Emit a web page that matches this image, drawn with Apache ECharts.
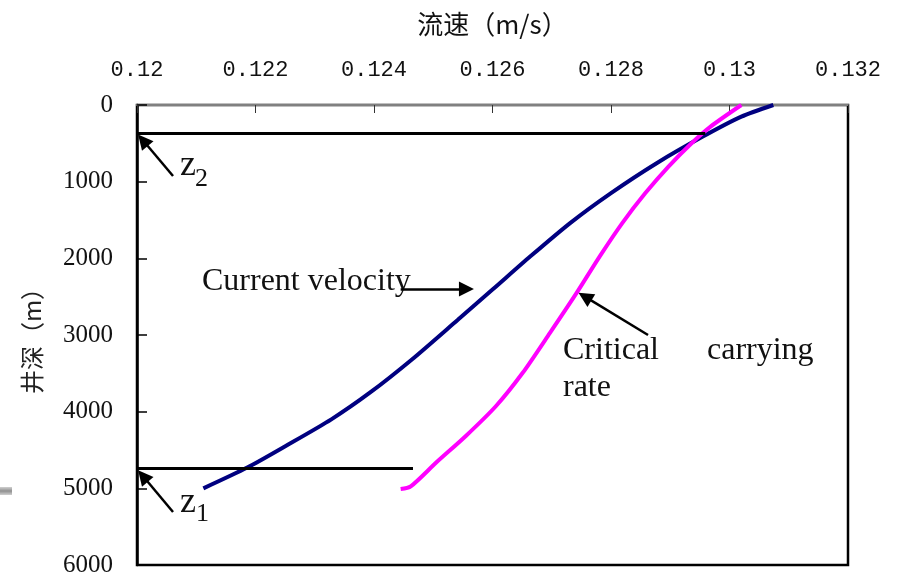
<!DOCTYPE html>
<html>
<head>
<meta charset="utf-8">
<script src="https://cdn.jsdelivr.net/npm/echarts@6/dist/echarts.min.js"></script>
<style>html,body{margin:0;padding:0;background:#fff;}#c{width:899px;height:579px;}</style>
</head>
<body>
<div id="c"></div>
<script>
// ---- data ----
const xTicks = [0.12, 0.122, 0.124, 0.126, 0.128, 0.13, 0.132];
const yTicks = [0, 1000, 2000, 3000, 4000, 5000, 6000];
// Current velocity (m/s) vs well depth (m)
const depthCurrent = [5000, 4729, 4447, 4100, 3753, 3319, 2798, 2408, 1974, 1540, 1149, 759, 412, 152, 0];
const velCurrent   = [0.12112, 0.12186, 0.12251, 0.12328, 0.12393, 0.12464, 0.12542, 0.12600, 0.12664, 0.12731, 0.12800, 0.12877, 0.12955, 0.13020, 0.13074];
// Critical carrying rate (m/s) vs well depth (m)
const depthCritical = [5010, 4975, 4664, 4317, 3926, 3493, 2972, 2451, 1974, 1540, 1149, 803, 499, 282, 0];
const velCritical   = [0.12445, 0.12462, 0.12505, 0.12555, 0.12606, 0.12651, 0.12697, 0.12742, 0.12781, 0.12819, 0.12858, 0.12897, 0.12936, 0.12968, 0.13020];
// z levels (depth) and how far the horizontal marker lines reach
const zDepths   = [365, 4735];
const zLineEnds = [0.12959, 0.124658];

const chart = echarts.init(document.getElementById('c'));
const black = '#000';
const arrowStyle = {color: black, width: 2.5, type: 'solid'};

function arrow(x1, y1, x2, y2) {
  return [{coord: [x1, y1], symbol: 'none', lineStyle: arrowStyle},
          {coord: [x2, y2], symbol: 'triangle'}];
}

const option = {
  animation: false,
  backgroundColor: '#fff',
  grid: {left: 137, right: 51, top: 105, bottom: 14, show: true, borderColor: black, borderWidth: 2.5, backgroundColor: '#fff'},
  xAxis: {
    type: 'value', position: 'top', min: 0.12, max: 0.132, interval: 0.002,
    name: '流速（m/s）', nameLocation: 'middle', nameGap: 68,
    nameTextStyle: {fontFamily: '"Noto Sans CJK SC"', fontSize: 26, color: '#111'},
    axisLine: {show: true, lineStyle: {color: '#808080', width: 2}},
    axisTick: {show: true, inside: true, length: 8, lineStyle: {color: '#333', width: 1}},
    axisLabel: {margin: 24, fontFamily: '"Liberation Mono"', fontSize: 22, color: '#111',
      formatter: v => String(+v.toFixed(3))},
    splitLine: {show: false}
  },
  yAxis: {
    type: 'value', inverse: true, min: 0, max: 6000, interval: 1000,
    name: '井深（m）', nameLocation: 'middle', nameGap: 93, nameRotate: 90,
    nameTextStyle: {fontFamily: '"Noto Sans CJK SC"', fontSize: 24, color: '#222'},
    axisLine: {show: true, lineStyle: {color: black, width: 2.5}},
    axisTick: {show: true, inside: true, length: 10, lineStyle: {color: black, width: 1.5}},
    axisLabel: {margin: 24, fontFamily: '"Liberation Serif"', fontSize: 25, color: '#111',
      formatter: v => String(v)},
    splitLine: {show: false}
  },
  series: [
    {
      name: 'Current velocity', type: 'line', smooth: 0.25, symbol: 'none',
      lineStyle: {color: '#000080', width: 4},
      data: velCurrent.map((v, i) => [v, depthCurrent[i]]),
      z: 3
    },
    {
      name: 'Critical carrying rate', type: 'line', smooth: 0.25, symbol: 'none',
      lineStyle: {color: '#FF00FF', width: 4},
      data: velCritical.map((v, i) => [v, depthCritical[i]]),
      z: 3
    },
    {
      name: 'annotations', type: 'line', data: [], symbol: 'none', z: 4,
      markLine: {
        silent: true, animation: false, symbolSize: 15,
        label: {show: false},
        data: [
          [{coord: [0.12, zDepths[0]], symbol: 'none', lineStyle: {color: black, width: 3, type: 'solid'}}, {coord: [zLineEnds[0], zDepths[0]], symbol: 'none'}],
          [{coord: [0.12, zDepths[1]], symbol: 'none', lineStyle: {color: black, width: 3, type: 'solid'}}, {coord: [zLineEnds[1], zDepths[1]], symbol: 'none'}],
          arrow(0.120608, 926, 0.12010, 460),
          arrow(0.120608, 5309, 0.12010, 4840),
          arrow(0.124450, 2400, 0.125560, 2400),
          arrow(0.128625, 3000, 0.127560, 2500)
        ]
      }
    }
  ],
  graphic: [
    {type: 'text', style: {text: 'Current velocity', x: 202, y: 282, font: '32px "Liberation Serif"', fill: '#111', verticalAlign: 'middle'}},
    {type: 'text', style: {text: 'Critical', x: 563, y: 351, font: '32px "Liberation Serif"', fill: '#111', verticalAlign: 'middle'}},
    {type: 'text', style: {text: 'carrying', x: 707, y: 351, font: '32px "Liberation Serif"', fill: '#111', verticalAlign: 'middle'}},
    {type: 'text', style: {text: 'rate', x: 563, y: 388, font: '32px "Liberation Serif"', fill: '#111', verticalAlign: 'middle'}},
    {type: 'text', style: {text: 'z', x: 180, y: 166, font: '36px "Liberation Serif"', fill: '#111', verticalAlign: 'middle'}},
    {type: 'text', style: {text: '2', x: 195, y: 179, font: '26px "Liberation Serif"', fill: '#111', verticalAlign: 'middle'}},
    {type: 'text', style: {text: 'z', x: 180, y: 503, font: '36px "Liberation Serif"', fill: '#111', verticalAlign: 'middle'}},
    {type: 'text', style: {text: '1', x: 196, y: 514, font: '26px "Liberation Serif"', fill: '#111', verticalAlign: 'middle'}},
    {type: 'rect', shape: {x: 0, y: 487, width: 12, height: 8},
      style: {fill: new echarts.graphic.LinearGradient(0, 0, 0, 1, [{offset: 0, color: '#d0d0d0'}, {offset: 0.5, color: '#909090'}, {offset: 1, color: '#d0d0d0'}])}}
  ]
};
chart.setOption(option);
</script>
</body>
</html>
